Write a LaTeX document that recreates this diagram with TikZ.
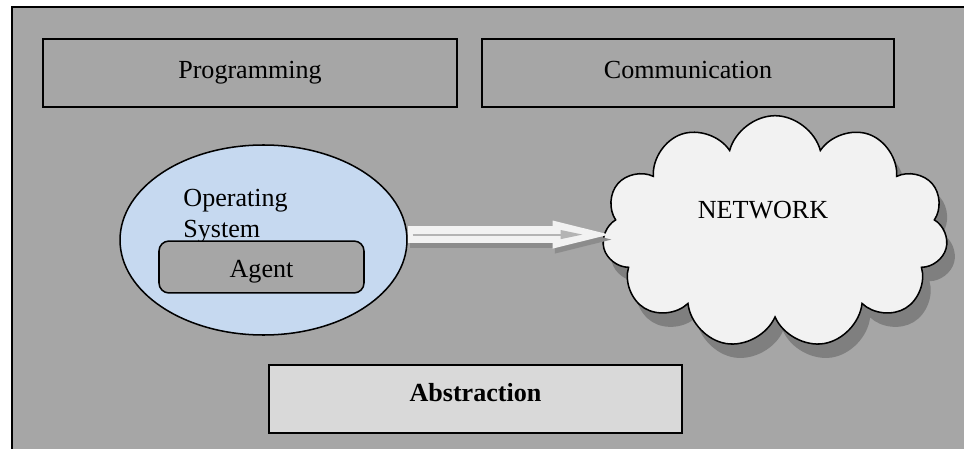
\documentclass[tikz,border=0pt]{standalone}
\usepackage{fontspec}
\setmainfont{Liberation Serif}
\usepackage{xcolor}
\usepackage{tikz}
\usetikzlibrary{shapes.geometric, shapes.symbols, arrows.meta, positioning, shadows}

\definecolor{panelgray}{HTML}{A6A6A6}
\definecolor{osblue}{HTML}{C6D9F0}
\definecolor{cloudwhite}{HTML}{F2F2F2}
\definecolor{absgray}{HTML}{D9D9D9}
\definecolor{shadowgray}{HTML}{7F7F7F}
\definecolor{arrshadow}{HTML}{8C8C8C}
\definecolor{arrline}{HTML}{B4B4B4}

\begin{document}
\begin{tikzpicture}[
    x=0.46pt, y=-0.46pt,
    every node/.style={font=\fontsize{12}{14}\selectfont},
    box/.style={draw, line width=0.9pt, minimum width=190.4pt, minimum height=31.3pt, text height=8pt, text depth=2.5pt},
    blockarr/.style={line width=7.8pt, -{Triangle[length=26pt, width=12.9pt, line width=0pt]}},
    thinarr/.style={arrline, line width=0.9pt, -{Triangle[length=10pt, width=4.2pt, line width=0pt]}},
]

\fill[white] (0,0) rectangle (964,449);
\useasboundingbox (0,0) rectangle (964,449);
\fill[panelgray] (12,7) rectangle (964,449);
\draw[line width=0.9pt] (12,449) -- (12,7) -- (964,7);

\node[box] (prog) at (250,73) {Programming};
\node[box, minimum width=189.5pt] (comm) at (688,73) {Communication};
\node[box, fill=absgray, text depth=6pt, font=\fontsize{12}{14}\selectfont\bfseries] (abs) at (475.5,399) {Abstraction};

\node[draw, ellipse, fill=osblue, line width=0.7pt, minimum width=132pt, minimum height=87.4pt, inner sep=0pt] (os) at (263.5,240) {};
\node[align=left, anchor=north west, inner sep=0pt] (ostext) at (183,189) {Operating\\System};
\node[draw, rounded corners=4.6pt, fill=panelgray, line width=0.7pt, minimum width=94.3pt, minimum height=23.9pt, text height=12pt, text depth=2.6pt] (agent) at (261.5,267) {Agent};

\node[cloud, cloud puffs=11, cloud ignores aspect, draw, fill=cloudwhite, line width=0.7pt, minimum width=159pt, minimum height=107pt,
      general shadow={fill=shadowgray, shadow xshift=3.7pt, shadow yshift=-6.4pt}] (net) at (775,232) {};
\node (nettext) at (763,210) {NETWORK};

\draw[blockarr, arrshadow, transform canvas={xshift=1pt, yshift=-2.3pt}] ([yshift=2.5pt]os.east) -- ([yshift=2.5pt, xshift=2.3pt]os.east -| net.west);
\draw[blockarr, cloudwhite] ([yshift=2.5pt]os.east) -- ([yshift=2.5pt, xshift=2.3pt]os.east -| net.west);
\draw[thinarr] ([yshift=2.5pt, xshift=2.3pt]os.east) -- ([yshift=2.5pt, xshift=-10pt]os.east -| net.west);

\end{tikzpicture}
\end{document}
